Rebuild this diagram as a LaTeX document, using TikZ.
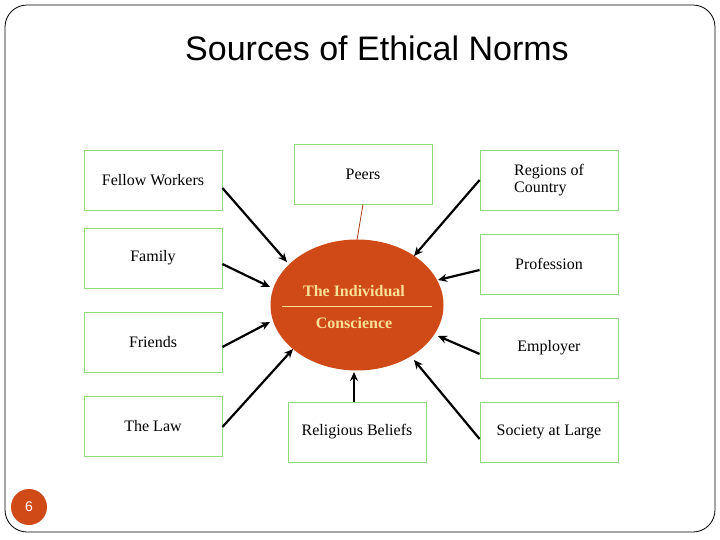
\documentclass[tikz,border=0pt]{standalone}
\usepackage{fontspec}
\setmainfont{Liberation Serif}
\newfontfamily\titlefont{Liberation Sans}
\usetikzlibrary{shapes.geometric,arrows.meta}
\definecolor{rust}{RGB}{208,74,24}
\definecolor{boxgreen}{RGB}{140,220,120}
\definecolor{lightyel}{RGB}{250,225,150}
\begin{document}
\begin{tikzpicture}[x=1pt,y=-1pt,
  src/.style={draw=boxgreen,line width=0.8pt,minimum width=138pt,minimum height=60pt,inner sep=2pt,font=\fontsize{16}{17}\selectfont,align=left},
  arr/.style={line width=2.2pt,-{Stealth[length=9pt,width=8pt]}}]
\useasboundingbox (0,0) rectangle (720,540);
\draw[rounded corners=22pt,line width=0.8pt] (5,5) rectangle (715,532);
\node[font=\titlefont\fontsize{34}{36}\selectfont] (title) at (377,48) {Sources of Ethical Norms};
\node[circle,fill=rust,minimum size=36pt,inner sep=0pt,text=white,font=\titlefont\fontsize{14}{14}\selectfont] (num) at (29,507) {6};
\node[ellipse,fill=rust,minimum width=173pt,minimum height=131pt,inner sep=0pt] (el) at (357,305) {};
\node[text=lightyel,font=\bfseries\fontsize{16}{17}\selectfont] (t1) at (354,291) {The Individual};
\node[text=lightyel,font=\bfseries\fontsize{16}{17}\selectfont] (t2) at (354,323) {Conscience};
\coordinate (la) at (282,306); \coordinate (lb) at (432,306);
\draw[lightyel,line width=0.8pt] (la) -- (lb);
\node[src] (fw) at (153,180) {Fellow Workers};
\node[src] (fa) at (153,258) {Family};
\node[src] (fr) at (153,342) {Friends};
\node[src] (law) at (153,426) {The Law};
\node[src] (pe) at (363,174) {Peers};
\node[src] (re) at (549,180) {Regions of\\Country};
\node[src] (pr) at (549,264) {Profession};
\node[src] (em) at (549,348) {Employer};
\node[src] (so) at (549,432) {Society at Large};
\node[src] (rb) at (357,432) {Religious Beliefs};
\coordinate (e1) at (287,262); \coordinate (e2) at (270,287);
\coordinate (e3) at (270,322); \coordinate (e4) at (293,349);
\coordinate (e5) at (414,256); \coordinate (e6) at (438,280);
\coordinate (e7) at (438,336); \coordinate (e8) at (414,360);
\coordinate (e9) at (354,372); \coordinate (e0) at (357,240);
\draw[arr] ([yshift=-8pt]fw.east) -- (e1);
\draw[arr] ([yshift=-6pt]fa.east) -- (e2);
\draw[arr] ([yshift=-5pt]fr.east) -- (e3);
\draw[arr] ([yshift=-1pt]law.east) -- (e4);
\draw[arr] (re.west) -- (e5);
\draw[arr] ([yshift=-6pt]pr.west) -- (e6);
\draw[arr] ([yshift=-6pt]em.west) -- (e7);
\draw[arr] ([yshift=-7pt]so.west) -- (e8);
\draw[arr] ([xshift=-3pt]rb.north) -- (e9);
\draw[rust!80!black,line width=0.8pt] (pe.south) -- (e0);
\end{tikzpicture}
\end{document}
